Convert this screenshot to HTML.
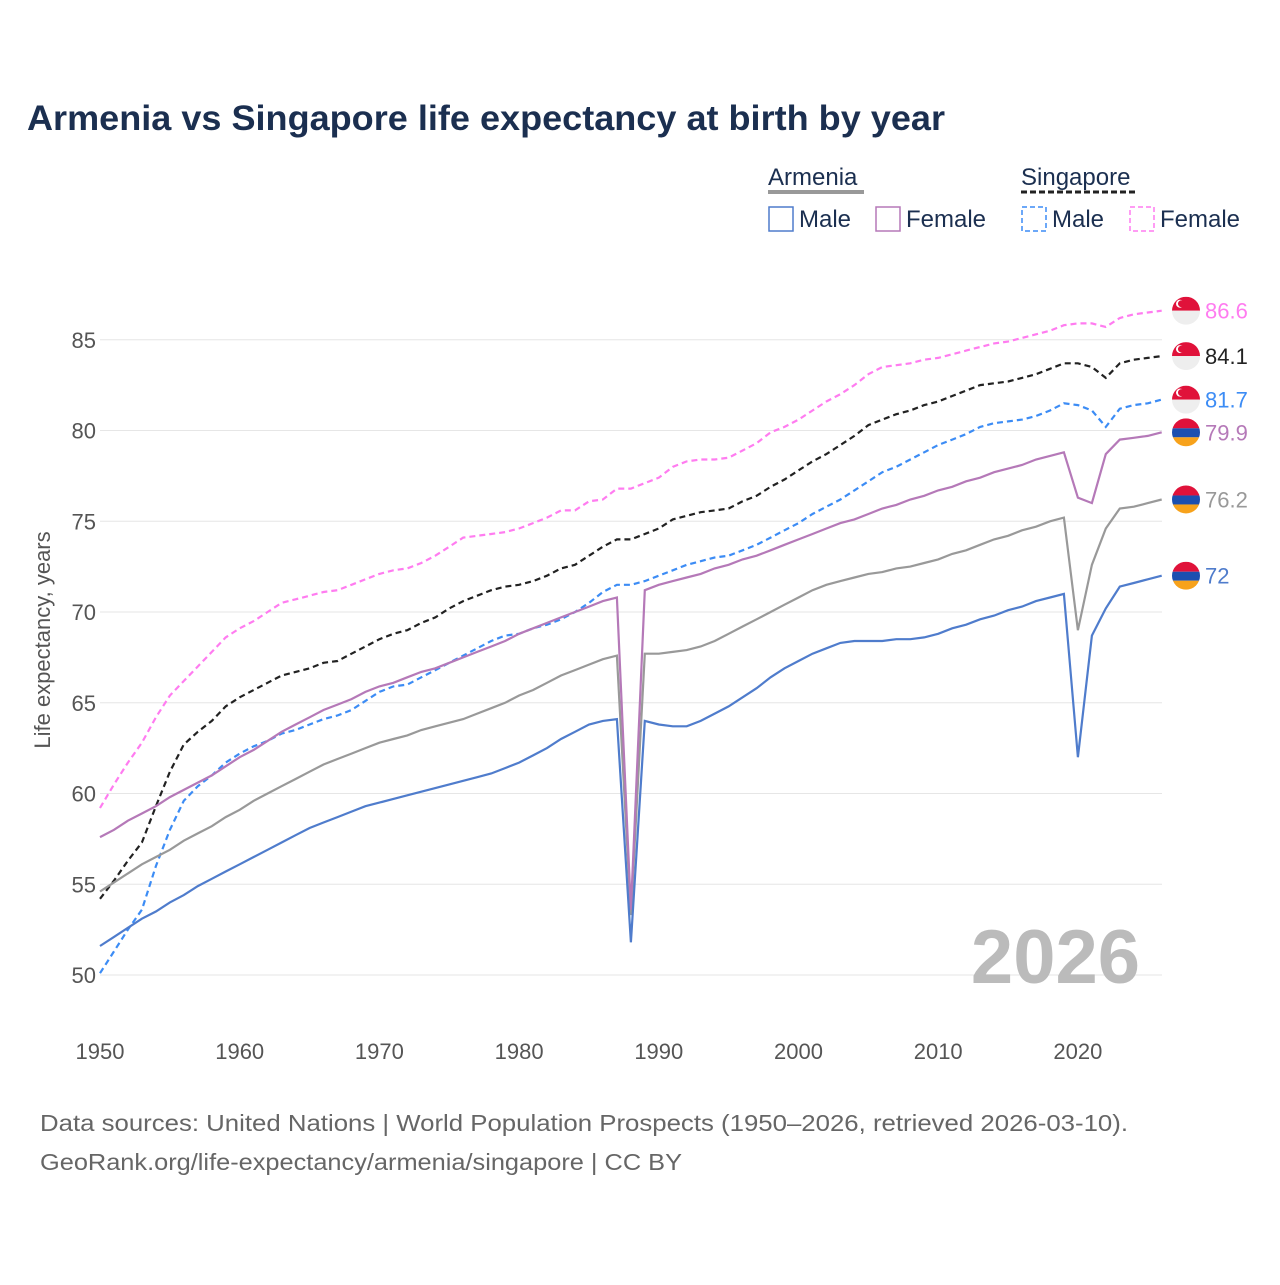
<!DOCTYPE html>
<html><head><meta charset="utf-8"><style>
body{margin:0;background:#fff;font-family:"Liberation Sans",sans-serif}
svg text{font-family:"Liberation Sans",sans-serif}
</style></head><body>
<svg id="chart" width="1280" height="1280" xmlns="http://www.w3.org/2000/svg">
<rect width="1280" height="1280" fill="#fff"/>
<text x="27" y="130" font-size="35" font-weight="bold" fill="#1b2f50" textLength="918" lengthAdjust="spacingAndGlyphs">Armenia vs Singapore life expectancy at birth by year</text>
<g font-size="24" fill="#1b2f50">
<text x="768" y="185" fill="#1b2f50">Armenia</text>
<line x1="768" y1="192" x2="864" y2="192" stroke="#999" stroke-width="4"/>
<text x="1021" y="185" fill="#1b2f50">Singapore</text>
<line x1="1021" y1="192" x2="1136" y2="192" stroke="#222" stroke-width="3" stroke-dasharray="6,3"/>
<g><rect x="769" y="207" width="24" height="24" fill="none" stroke="#4f7ccc" stroke-width="1.5"/><text x="799" y="227">Male</text></g>
<g><rect x="876" y="207" width="24" height="24" fill="none" stroke="#b579b8" stroke-width="1.5"/><text x="906" y="227">Female</text></g>
<g><rect x="1022" y="207" width="24" height="24" fill="none" stroke="#3c8cf5" stroke-width="1.5" stroke-dasharray="5,3"/><text x="1052" y="227">Male</text></g>
<g><rect x="1130" y="207" width="24" height="24" fill="none" stroke="#ff7cf0" stroke-width="1.5" stroke-dasharray="5,3"/><text x="1160" y="227">Female</text></g>
</g>
<g id="grid"></g><g id="series"></g><g id="labels"></g>
<text transform="translate(50,640) rotate(-90)" text-anchor="middle" font-size="22" fill="#555">Life expectancy, years</text>
<text x="1140" y="983" text-anchor="end" font-size="76" font-weight="bold" fill="#bbb">2026</text>
<text x="40" y="1131" font-size="23" fill="#666" textLength="1088" lengthAdjust="spacingAndGlyphs">Data sources: United Nations | World Population Prospects (1950–2026, retrieved 2026-03-10).</text>
<text x="40" y="1170" font-size="23" fill="#666" textLength="642" lengthAdjust="spacingAndGlyphs">GeoRank.org/life-expectancy/armenia/singapore | CC BY</text>
</svg>
<script>
const years=[];for(let y=1950;y<=2026;y++)years.push(y);
const yTicks=[50,55,60,65,70,75,80,85];
const xTicks=[1950,1960,1970,1980,1990,2000,2010,2020];
const armMale=[51.6,52.1,52.6,53.1,53.5,54.0,54.4,54.9,55.3,55.7,56.1,56.5,56.9,57.3,57.7,58.1,58.4,58.7,59.0,59.3,59.5,59.7,59.9,60.1,60.3,60.5,60.7,60.9,61.1,61.4,61.7,62.1,62.5,63.0,63.4,63.8,64.0,64.1,51.8,64.0,63.8,63.7,63.7,64.0,64.4,64.8,65.3,65.8,66.4,66.9,67.3,67.7,68.0,68.3,68.4,68.4,68.4,68.5,68.5,68.6,68.8,69.1,69.3,69.6,69.8,70.1,70.3,70.6,70.8,71.0,62.0,68.7,70.2,71.4,71.6,71.8,72.0];
const armTotal=[54.6,55.1,55.6,56.1,56.5,56.9,57.4,57.8,58.2,58.7,59.1,59.6,60.0,60.4,60.8,61.2,61.6,61.9,62.2,62.5,62.8,63.0,63.2,63.5,63.7,63.9,64.1,64.4,64.7,65.0,65.4,65.7,66.1,66.5,66.8,67.1,67.4,67.6,53.3,67.7,67.7,67.8,67.9,68.1,68.4,68.8,69.2,69.6,70.0,70.4,70.8,71.2,71.5,71.7,71.9,72.1,72.2,72.4,72.5,72.7,72.9,73.2,73.4,73.7,74.0,74.2,74.5,74.7,75.0,75.2,69.0,72.6,74.6,75.7,75.8,76.0,76.2];
const armFemale=[57.6,58.0,58.5,58.9,59.3,59.8,60.2,60.6,61.0,61.5,62.0,62.4,62.9,63.4,63.8,64.2,64.6,64.9,65.2,65.6,65.9,66.1,66.4,66.7,66.9,67.2,67.5,67.8,68.1,68.4,68.8,69.1,69.4,69.7,70.0,70.3,70.6,70.8,53.6,71.2,71.5,71.7,71.9,72.1,72.4,72.6,72.9,73.1,73.4,73.7,74.0,74.3,74.6,74.9,75.1,75.4,75.7,75.9,76.2,76.4,76.7,76.9,77.2,77.4,77.7,77.9,78.1,78.4,78.6,78.8,76.3,76.0,78.7,79.5,79.6,79.7,79.9];
const sgpTotal=[54.2,55.2,56.3,57.3,59.3,61.2,62.7,63.4,64.0,64.8,65.3,65.7,66.1,66.5,66.7,66.9,67.2,67.3,67.7,68.1,68.5,68.8,69.0,69.4,69.7,70.2,70.6,70.9,71.2,71.4,71.5,71.7,72.0,72.4,72.6,73.1,73.6,74.0,74.0,74.3,74.6,75.1,75.3,75.5,75.6,75.7,76.1,76.4,76.9,77.3,77.8,78.3,78.7,79.2,79.7,80.3,80.6,80.9,81.1,81.4,81.6,81.9,82.2,82.5,82.6,82.7,82.9,83.1,83.4,83.7,83.7,83.5,82.9,83.7,83.9,84.0,84.1];
const sgpMale=[50.1,51.3,52.5,53.6,56.0,58.0,59.6,60.4,61.0,61.7,62.2,62.6,62.9,63.3,63.5,63.8,64.1,64.3,64.6,65.1,65.6,65.9,66.0,66.4,66.8,67.2,67.6,68.0,68.4,68.7,68.8,69.1,69.3,69.6,70.0,70.5,71.1,71.5,71.5,71.7,72.0,72.3,72.6,72.8,73.0,73.1,73.4,73.7,74.1,74.5,74.9,75.4,75.8,76.2,76.7,77.2,77.7,78.0,78.4,78.8,79.2,79.5,79.8,80.2,80.4,80.5,80.6,80.8,81.1,81.5,81.4,81.1,80.2,81.2,81.4,81.5,81.7];
const sgpFemale=[59.2,60.5,61.7,62.8,64.2,65.4,66.2,67.0,67.8,68.6,69.1,69.5,70.0,70.5,70.7,70.9,71.1,71.2,71.5,71.8,72.1,72.3,72.4,72.7,73.1,73.6,74.1,74.2,74.3,74.4,74.6,74.9,75.2,75.6,75.6,76.1,76.2,76.8,76.8,77.1,77.4,78.0,78.3,78.4,78.4,78.5,78.9,79.3,79.9,80.2,80.6,81.1,81.6,82.0,82.5,83.1,83.5,83.6,83.7,83.9,84.0,84.2,84.4,84.6,84.8,84.9,85.1,85.3,85.5,85.8,85.9,85.9,85.7,86.2,86.4,86.5,86.6];
const NS='http://www.w3.org/2000/svg';
const X=y=>100+(y-1950)*13.97;
const Y=v=>975-(v-50)*18.15;
function mk(t,a,p){const e=document.createElementNS(NS,t);for(const k in a)e.setAttribute(k,a[k]);p.appendChild(e);return e;}
const grid=document.getElementById('grid');
yTicks.forEach(v=>{
  const l=mk('line',{x1:100,x2:1162,y1:Y(v),y2:Y(v),stroke:'#e6e6e6','stroke-width':1},grid);
  
  
  const t=mk('text',{x:96,y:Y(v)+8,'text-anchor':'end','font-size':22,fill:'#555'},grid);t.textContent=v;
  
  
});
xTicks.forEach(v=>{
  const t=mk('text',{x:X(v),y:1059,'text-anchor':'middle','font-size':22,fill:'#555'},grid);t.textContent=v;
  
  
});
const series=[
 {d:sgpFemale,c:'#ff7cf0',dash:'6,4',n:'singapore-female',flag:'sg'},
 {d:sgpTotal,c:'#222',dash:'6,4',n:'singapore-total',flag:'sg'},
 {d:sgpMale,c:'#3c8cf5',dash:'6,4',n:'singapore-male',flag:'sg'},
 {d:armTotal,c:'#999',dash:null,n:'armenia-total',flag:'am'},
 {d:armFemale,c:'#b579b8',dash:null,n:'armenia-female',flag:'am'},
 {d:armMale,c:'#4f7ccc',dash:null,n:'armenia-male',flag:'am'}
];
const sg=document.getElementById('series'),lb=document.getElementById('labels');
series.forEach(s=>{
  const p=mk('path',{d:s.d.map((v,i)=>(i?'L':'M')+X(years[i]).toFixed(1)+','+Y(v).toFixed(1)).join(''),fill:'none',stroke:s.c,'stroke-width':2.2},sg);
  if(s.dash)p.setAttribute('stroke-dasharray',s.dash);
  
  
});
series.forEach(s=>{
  const last=s.d[s.d.length-1],cy=Y(last),cx=1186;
  const g=mk('g',{},lb);
  
  
  const id='c'+s.n;
  const cp=mk('clipPath',{id:id},g);mk('circle',{cx:cx,cy:cy,r:14},cp);
  const f=mk('g',{'clip-path':'url(#'+id+')'},g);
  if(s.flag==='sg'){
    mk('rect',{x:cx-14,y:cy-14,width:28,height:14,fill:'#e0123a'},f);
    mk('rect',{x:cx-14,y:cy,width:28,height:14,fill:'#eee'},f);
    mk('circle',{cx:cx-6,cy:cy-7,r:4,fill:'#fff'},f);
    mk('circle',{cx:cx-4.5,cy:cy-7,r:3.5,fill:'#e0123a'},f);
  }else{
    mk('rect',{x:cx-14,y:cy-14,width:28,height:10,fill:'#e0123a'},f);
    mk('rect',{x:cx-14,y:cy-4,width:28,height:9,fill:'#1b4fb0'},f);
    mk('rect',{x:cx-14,y:cy+5,width:28,height:9,fill:'#f7a21b'},f);
  }
  const t=mk('text',{x:1205,y:cy+8,'font-size':22,fill:s.c},g);t.textContent=last;
});
</script>
</body></html>
